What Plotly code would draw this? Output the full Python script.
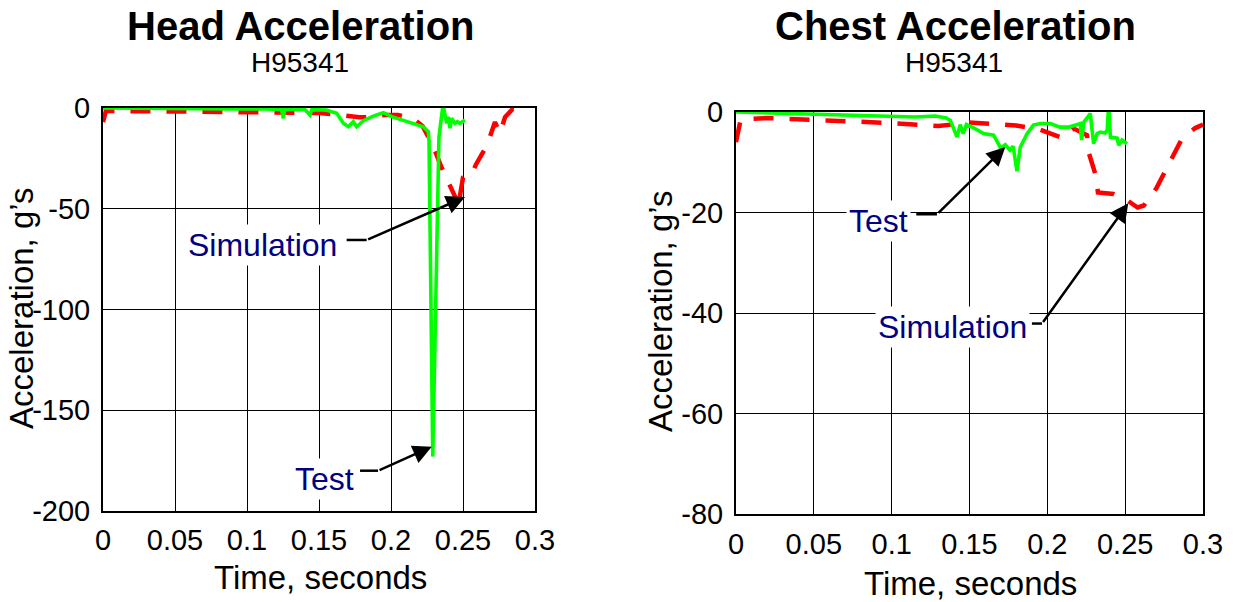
import plotly.graph_objects as go

# ---------------- data ----------------
head_test_t = [0, 0.03, 0.06, 0.09, 0.11, 0.124, 0.1252, 0.1262, 0.14, 0.1437, 0.145, 0.155, 0.1623,
               0.1669, 0.1704, 0.1738, 0.1762, 0.1808, 0.1877, 0.1947, 0.2005, 0.2109, 0.2224, 0.2259,
               0.2264, 0.2290, 0.2333, 0.2361, 0.2387, 0.2398, 0.2410, 0.2421, 0.2444, 0.2461, 0.2479, 0.2514]
head_test_v = [0, -0.3, -0.2, -0.5, -0.4, -0.8, -5.1, -0.8, -0.6, -3.5, -0.8, -1.0, -2.6,
               -7.6, -9.3, -6.8, -9.3, -6.3, -4.0, -2.3, -4.3, -6.8, -9.3, -11.7,
               -16, -173, -14.4, 1.5, -7.6, -4.3, -10, -5.1, -7.6, -6.8, -7.6, -6]

head_sim_t = [0, 0.002, 0.05, 0.1, 0.13, 0.15, 0.165, 0.178, 0.185, 0.195, 0.205, 0.215, 0.222,
              0.2294, 0.2348, 0.2403, 0.2445, 0.2465, 0.25, 0.256, 0.259, 0.2667, 0.2722, 0.2757,
              0.2792, 0.2845, 0.291]
head_sim_v = [-7, -1.5, -1.7, -1.9, -2, -2.5, -3.5, -4.6, -4.6, -3.5, -3.5, -5, -9,
              -19.2, -29, -38, -44, -49.6, -34.5, -33, -28, -18.5, -7, -12.5,
              -4.5, -0.5, -2]

chest_test_t = [0, 0.02, 0.05, 0.08, 0.1, 0.115, 0.128, 0.135, 0.1377, 0.142, 0.144, 0.146, 0.148,
                0.153, 0.159, 0.1655, 0.168, 0.17, 0.173, 0.176, 0.178, 0.1805, 0.1826, 0.187,
                0.191, 0.1955, 0.202, 0.208, 0.214, 0.219, 0.2212, 0.222, 0.2235, 0.2276, 0.2297,
                0.232, 0.234, 0.237, 0.2385, 0.2394, 0.2405, 0.2448, 0.2458, 0.248, 0.2512]
chest_test_v = [0, -0.2, -0.4, -0.7, -0.9, -1.0, -0.8, -1.2, -1.7, -5, -2.5, -4.3, -2.5,
                -3.2, -4.3, -4.6, -6, -7.2, -6.5, -7.6, -6.8, -11.8, -7, -4.3,
                -2.6, -2.3, -2.3, -3.0, -3.0, -2.6, -2.3, -5.6, -2.0, -0.3, -6.3,
                -4.3, -4.0, -4.2, -3.6, 1.7, -5, -5.2, -6.6, -5.6, -6.3]

chest_sim_t = [0, 0.003, 0.02, 0.05, 0.07, 0.1, 0.13, 0.15, 0.16, 0.18, 0.195, 0.21, 0.217,
               0.2255, 0.2265, 0.231, 0.2325, 0.2425, 0.25, 0.258, 0.262, 0.27, 0.276, 0.281,
               0.287, 0.295, 0.3]
chest_sim_v = [-6, -1.5, -1.2, -1.5, -1.8, -2.2, -2.8, -2.1, -2.3, -2.7, -3.5, -5.2, -3.3,
               -4.6, -8, -12.5, -16, -16.3, -17.3, -19, -18.6, -15.2, -11.6, -8.6,
               -5.0, -3.2, -2.5]

x_ticks = [0, 0.05, 0.1, 0.15, 0.2, 0.25, 0.3]
x_tick_text = ["0", "0.05", "0.1", "0.15", "0.2", "0.25", "0.3"]
head_y_ticks = [0, -50, -100, -150, -200]
head_y_text = ["0", "-50", "-100", "-150", "-200"]
chest_y_ticks = [0, -20, -40, -60, -80]
chest_y_text = ["0", "-20", "-40", "-60", "-80"]

titles = ["Head Acceleration", "Chest Acceleration"]
subtitle = "H95341"
x_title = "Time, seconds"
y_title = "Acceleration, g\u2019s"

# callouts: (axis suffix, label, text x, text y, leader x0, leader x1, leader y, tip x, tip y)
callouts = [
    ("", "Simulation", 0.1108, -68.0, 0.1692, 0.1831, -65.5, 0.2514, -44.2),
    ("", "Test", 0.1535, -184.0, 0.1785, 0.1910, -180.0, 0.2283, -168.1),
    ("2", "Test", 0.0914, -21.7, 0.1158, 0.1291, -20.35, 0.1730, -6.96),
    ("2", "Simulation", 0.1390, -42.8, 0.1901, 0.1966, -42.1, 0.2520, -18.16),
]

# ---------------- figure ----------------
W, H = 1234, 602
FONT = "Liberation Sans, Arial, Helvetica, sans-serif"
GREEN = "#00FF00"
RED = "#FF0000"
NAVY = "#000080"

fig = go.Figure()
fig.add_trace(go.Scatter(x=head_sim_t, y=head_sim_v, mode="lines", xaxis="x", yaxis="y",
                         line=dict(color=RED, width=4.5, dash="20px,16px"), showlegend=False))
fig.add_trace(go.Scatter(x=head_test_t, y=head_test_v, mode="lines", xaxis="x", yaxis="y",
                         line=dict(color=GREEN, width=3.6), showlegend=False))
fig.add_trace(go.Scatter(x=chest_sim_t, y=chest_sim_v, mode="lines", xaxis="x2", yaxis="y2",
                         line=dict(color=RED, width=4.5, dash="20px,16px"), showlegend=False))
fig.add_trace(go.Scatter(x=chest_test_t, y=chest_test_v, mode="lines", xaxis="x2", yaxis="y2",
                         line=dict(color=GREEN, width=3.6), showlegend=False))

# plot area pixel boxes
L_box = (103, 535, 108, 511)   # x0, x1, ytop, ybottom
R_box = (736, 1203, 112, 514)

def dom_x(b):
    return [b[0] / W, b[1] / W]

def dom_y(b):
    return [1 - b[3] / H, 1 - b[2] / H]

axis_common = dict(showgrid=True, gridcolor="black", gridwidth=1.4, showline=True, linecolor="black",
                   linewidth=2, mirror=True, zeroline=False, ticks="", tickmode="array",
                   automargin=False,
                   tickfont=dict(family=FONT, size=29, color="black"))

fig.update_layout(
    width=W, height=H, margin=dict(l=0, r=0, t=0, b=0, autoexpand=False),
    paper_bgcolor="white", plot_bgcolor="white", showlegend=False,
    xaxis=dict(domain=dom_x(L_box), anchor="y", range=[0, 0.3], tickvals=x_ticks, ticktext=x_tick_text,
               ticklabelstandoff=2, **axis_common),
    yaxis=dict(domain=dom_y(L_box), anchor="x", range=[-200, 0], tickvals=head_y_ticks, ticktext=head_y_text,
               ticklabelstandoff=5, **axis_common),
    xaxis2=dict(domain=dom_x(R_box), anchor="y2", range=[0, 0.3], tickvals=x_ticks, ticktext=x_tick_text,
                ticklabelstandoff=3, **axis_common),
    yaxis2=dict(domain=dom_y(R_box), anchor="x2", range=[-80, 0], tickvals=chest_y_ticks, ticktext=chest_y_text,
                ticklabelstandoff=5, **axis_common),
)

# titles and axis titles (paper coords)
def px(xp, yp):
    return xp / W, 1 - yp / H

title_pos = [(301, 26), (955, 26)]
sub_pos = [(300, 62), (954, 62)]
xtitle_pos = [(320, 577), (970, 583)]
ytitle_pos = [(21, 308), (660, 311)]

for i in range(2):
    x, y = px(*title_pos[i])
    fig.add_annotation(text="<b>%s</b>" % titles[i], x=x, y=y, xref="paper", yref="paper",
                       showarrow=False, font=dict(family=FONT, size=40, color="black"),
                       xanchor="center", yanchor="middle")
    x, y = px(*sub_pos[i])
    fig.add_annotation(text=subtitle, x=x, y=y, xref="paper", yref="paper",
                       showarrow=False, font=dict(family=FONT, size=28, color="black"),
                       xanchor="center", yanchor="middle")
    x, y = px(*xtitle_pos[i])
    fig.add_annotation(text=x_title, x=x, y=y, xref="paper", yref="paper",
                       showarrow=False, font=dict(family=FONT, size=33, color="black"),
                       xanchor="center", yanchor="middle")
    x, y = px(*ytitle_pos[i])
    fig.add_annotation(text=y_title, x=x, y=y, xref="paper", yref="paper", textangle=-90,
                       showarrow=False, font=dict(family=FONT, size=33, color="black"),
                       xanchor="center", yanchor="middle")

# callouts
for suf, label, tx, ty, lx0, lx1, ly, ax_tip, ay_tip in callouts:
    xr, yr = "x" + suf, "y" + suf
    fig.add_shape(type="line", xref=xr, yref=yr, x0=lx0, x1=lx1, y0=ly, y1=ly,
                  line=dict(color="black", width=2.5))
    fig.add_annotation(x=ax_tip, y=ay_tip, ax=lx1, ay=ly, xref=xr, yref=yr, axref=xr, ayref=yr,
                       text="", showarrow=True, arrowhead=2, arrowsize=1.5, arrowwidth=2.5,
                       arrowcolor="black", standoff=0, startstandoff=0)
    fig.add_annotation(x=tx, y=ty, xref=xr, yref=yr, text=label, showarrow=False,
                       font=dict(family=FONT, size=32, color=NAVY), bgcolor="white",
                       xanchor="center", yanchor="middle", borderpad=2)

fig.write_html("out.html", config={"displayModeBar": False},
               post_script="document.body.style.margin='0';document.body.style.overflow='hidden';")
